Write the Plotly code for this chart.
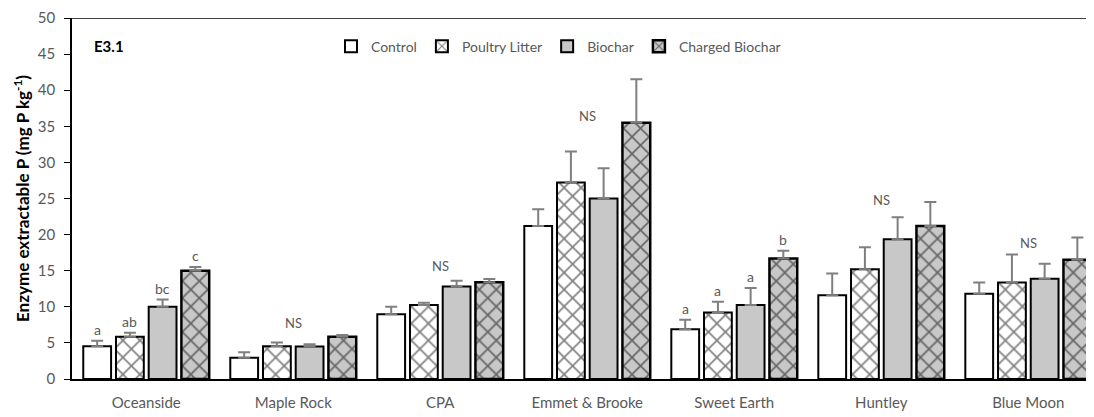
import plotly.graph_objects as go

sites = ["Oceanside", "Maple Rock", "CPA", "Emmet & Brooke", "Sweet Earth", "Huntley", "Blue Moon"]
treatments = ["Control", "Poultry Litter", "Biochar", "Charged Biochar"]

control = [4.55, 2.96, 8.97, 21.2, 6.9, 11.6, 11.8]
poultry = [5.85, 4.55, 10.25, 27.2, 9.2, 15.2, 13.35]
biochar = [10.0, 4.5, 12.8, 25.0, 10.25, 19.35, 13.9]
charged = [15.0, 5.85, 13.4, 35.5, 16.7, 21.2, 16.5]

control_err = [0.75, 0.75, 1.05, 2.3, 1.3, 3.0, 1.55]
poultry_err = [0.55, 0.5, 0.3, 4.3, 1.5, 3.05, 3.9]
biochar_err = [1.0, 0.3, 0.8, 4.2, 2.35, 3.05, 2.05]
charged_err = [0.5, 0.25, 0.45, 6.0, 1.05, 3.3, 3.1]

# significance letters per site (per treatment) or "NS"
letters = [["a", "ab", "bc", "c"], "NS", "NS", "NS", ["a", "a", "a", "b"], "NS", "NS"]
ns_heights = [None, 7.8, 15.6, 36.4, None, 24.8, 18.9]

values = [control, poultry, biochar, charged]
errors = [control_err, poultry_err, biochar_err, charged_err]

GRAY = "#c8c8c8"
TXT = "#595959"
FONT = "Lato"

hatch = dict(shape="x", fgcolor="black", size=12, solidity=0.25, fillmode="overlay")
styles = [
    dict(color="white", pattern=None),
    dict(color="white", pattern=hatch),
    dict(color=GRAY, pattern=None),
    dict(color=GRAY, pattern=hatch),
]

xs = list(range(len(sites)))
fig = go.Figure()
for k, name in enumerate(treatments):
    marker = dict(color=styles[k]["color"], line=dict(color="black", width=2 if k < 3 else 2.5))
    if styles[k]["pattern"]:
        marker["pattern"] = styles[k]["pattern"]
    fig.add_trace(go.Bar(
        x=xs, y=values[k], name=name, marker=marker,
        error_y=dict(type="data", array=errors[k], arrayminus=[0] * len(xs), symmetric=False,
                     color="#7f7f7f", thickness=2, width=6),
    ))

bargap = 0.11
slot = (1 - bargap) / 4
annotations = []
for i, lab in enumerate(letters):
    if lab == "NS":
        annotations.append(dict(x=i, y=ns_heights[i], text="NS", showarrow=False,
                                font=dict(family=FONT, size=13, color=TXT)))
    else:
        for k, t in enumerate(lab):
            xpos = i - (1 - bargap) / 2 + (k + 0.5) * slot
            annotations.append(dict(x=xpos, y=values[k][i] + errors[k][i], text=t, showarrow=False,
                                    yanchor="bottom", yshift=1,
                                    font=dict(family=FONT, size=14, color=TXT)))
annotations.append(dict(x=0.0196, y=(379 - 41) / 366, xref="paper", yref="paper",
                        text="<b>E3.1</b>", showarrow=False, xanchor="left", yanchor="middle",
                        font=dict(family=FONT, size=15, color="black")))

# page body has an 8px default margin, so the figure is offset by 8px
fig.update_layout(
    width=1086, height=409,
    margin=dict(l=64, r=0, t=5, b=38),
    paper_bgcolor="white", plot_bgcolor="white",
    barmode="group", bargap=bargap, bargroupgap=0.15,
    font=dict(family=FONT, color=TXT, size=14),
    showlegend=True,
    legend=dict(orientation="h", x=0.476, xanchor="center", y=(379 - 42) / 366, yanchor="middle",
                font=dict(family=FONT, size=14, color=TXT), itemwidth=30,
                bgcolor="rgba(0,0,0,0)"),
    xaxis=dict(tickmode="array", tickvals=xs, ticktext=sites, range=[-0.505, 6.447],
               showline=True, linecolor="black", linewidth=1.5, ticks="", showgrid=False,
               zeroline=False, ticklabelstandoff=9,
               tickfont=dict(family=FONT, size=15, color=TXT)),
    yaxis=dict(range=[0, 50], tickmode="linear", tick0=0, dtick=5, ticks="outside", ticklen=6,
               tickcolor="black", showline=True, linecolor="black", linewidth=1.5, showgrid=False,
               zeroline=False, ticklabeloverflow="allow", ticklabelstandoff=6,
               tickfont=dict(family=FONT, size=15, color=TXT),
               title=dict(text="<b>Enzyme extractable P (mg P kg<sup>-1</sup>)</b>",
                          font=dict(family=FONT, size=17, color="black"), standoff=4)),
    annotations=annotations,
    shapes=[dict(type="line", xref="paper", yref="y", x0=0, x1=1, y0=50, y1=50,
                 line=dict(color="black", width=1.5))],
)

fig.write_html("out.html")
